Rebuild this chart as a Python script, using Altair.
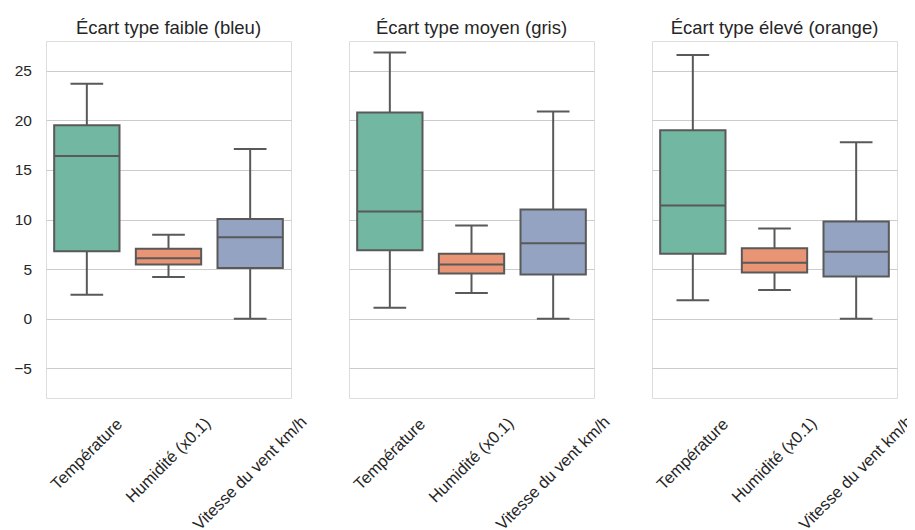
import altair as alt
import pandas as pd

panels = ["Écart type faible (bleu)", "Écart type moyen (gris)", "Écart type élevé (orange)"]
variables = ["Température", "Humidité (x0.1)", "Vitesse du vent km/h"]

# per panel: one value per variable
whisker_low = [[2.4, 4.2, 0.0], [1.1, 2.6, 0.0], [1.85, 2.9, 0.0]]
q1 = [[6.8, 5.45, 5.1], [6.9, 4.55, 4.45], [6.55, 4.65, 4.25]]
median = [[16.4, 6.1, 8.2], [10.8, 5.45, 7.6], [11.4, 5.65, 6.75]]
q3 = [[19.5, 7.05, 10.05], [20.8, 6.55, 11.0], [19.0, 7.1, 9.8]]
whisker_high = [[23.7, 8.45, 17.1], [26.85, 9.4, 20.9], [26.6, 9.1, 17.8]]

box_colors = ["#72b7a1", "#e99575", "#95a3c3"]
line_color = "#595959"
text_color = "#262626"
font = "Liberation Sans"

rows = []
for p, title in enumerate(panels):
    for v, var in enumerate(variables):
        rows.append(dict(panel=title, variable=var, lo=whisker_low[p][v], q1=q1[p][v],
                         med=median[p][v], q3=q3[p][v], hi=whisker_high[p][v]))
df = pd.DataFrame(rows)

W, H = 245, 357
band = W / 3

pad_cond = {
    "condition": [
        {"test": "datum.value === 'Température'", "value": 56},
        {"test": "datum.value === 'Humidité (x0.1)'", "value": 62},
    ],
    "value": 75,
}


def panel(idx):
    title = panels[idx]
    d = df[df.panel == title]
    x = alt.X("variable:N", sort=variables,
              scale=alt.Scale(domain=variables, paddingInner=0, paddingOuter=0),
              axis=alt.Axis(title=None, domain=False, ticks=False, grid=False,
                            labelAngle=-45, labelAlign="center", labelBaseline="middle",
                            labelPadding=pad_cond, labelFontSize=16.5, labelColor=text_color,
                            labelFont=font))
    yax = alt.Axis(title=None, domain=False, ticks=False, tickSize=0, grid=True,
                   gridColor="#cccccc", gridWidth=1, values=[-5, 0, 5, 10, 15, 20, 25],
                   labels=(idx == 0), labelPadding=14.5, labelFontSize=15.5,
                   labelColor=text_color, labelFont=font)
    yscale = alt.Scale(domain=[-8, 28], nice=False, zero=False)
    color = alt.Color("variable:N", scale=alt.Scale(domain=variables, range=box_colors), legend=None)

    base = alt.Chart(d)
    whisk = base.mark_rule(color=line_color, strokeWidth=2).encode(
        x=x, y=alt.Y("lo:Q", scale=yscale, axis=yax), y2="hi:Q")
    cap_lo = base.mark_tick(color=line_color, size=0.4 * band, thickness=2, opacity=1).encode(
        x=x, y=alt.Y("lo:Q", scale=yscale, axis=yax))
    cap_hi = base.mark_tick(color=line_color, size=0.4 * band, thickness=2, opacity=1).encode(
        x=x, y=alt.Y("hi:Q", scale=yscale, axis=yax))
    box = base.mark_bar(size=0.8 * band, stroke=line_color, strokeWidth=2, opacity=1).encode(
        x=x, y=alt.Y("q1:Q", scale=yscale, axis=yax), y2="q3:Q", color=color)
    med = base.mark_tick(color=line_color, size=0.8 * band, thickness=2, opacity=1).encode(
        x=x, y=alt.Y("med:Q", scale=yscale, axis=yax))

    return alt.layer(whisk, cap_lo, cap_hi, box, med).properties(
        width=W, height=H,
        title=alt.TitleParams(title, fontSize=18.5, fontWeight="normal", anchor="middle",
                              frame="group", offset=-15, baseline="bottom",
                              color=text_color, font=font),
    )


chart = alt.hconcat(panel(0), panel(1), panel(2), spacing=58, bounds="flush").configure_view(
    stroke="#cccccc", strokeWidth=1.25
).properties(
    padding={"left": 5, "top": 10, "right": -10, "bottom": 0}
).configure(font=font)

chart.save("out.html", embed_options={"renderer": "svg", "actions": False})
